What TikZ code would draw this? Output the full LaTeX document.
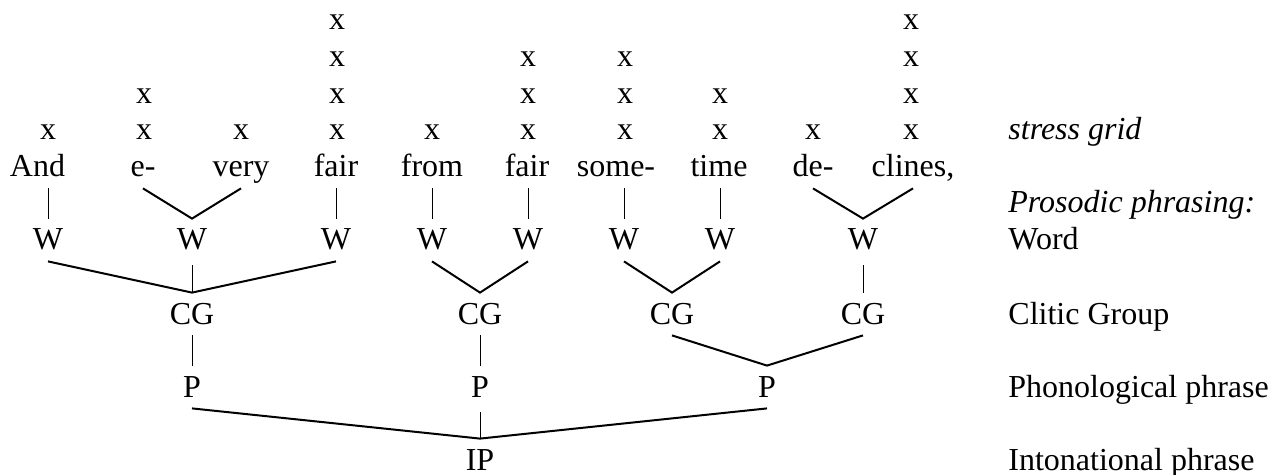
\documentclass[tikz,border=0pt]{standalone}
\usepackage{fontspec}
\setmainfont{Liberation Serif}
\begin{document}
\begin{tikzpicture}[x=0.5pt,y=-0.5pt,
  txt/.style={font=\fontsize{16}{19}\selectfont, inner sep=0pt, anchor=base},
  gridx/.style={txt},
  lbl/.style={txt, anchor=base west},
  wordnode/.style={txt, text height=10pt, text depth=0pt, inner ysep=5.5pt, inner xsep=0pt},
  tnode/.style={txt, text height=10pt, text depth=0pt, inner ysep=5.5pt, inner xsep=0pt},
  thin/.style={line width=0.5pt},
  thick/.style={line width=1pt}]
\useasboundingbox (0,0) rectangle (1272,475);

% stress grid
\foreach \cx/\h [count=\c] in {48/1,144/2,241/1,337/4,432/1,528/3,625/3,720/2,813/1,911/4}{
  \foreach \k in {1,...,\h}{
    \node[gridx] (g\c-\k) at (\cx,{140-36.7*(\k-1)}) {x};
  }
}

% words
\node[wordnode] (and)    at (37.5,177) {And};
\node[wordnode] (e)      at (143,177) {e-};
\node[wordnode] (very)   at (241,177) {very};
\node[wordnode] (fairA)  at (336,177) {fair};
\node[wordnode] (from)   at (432,177) {from};
\node[wordnode] (fairB)  at (527,177) {fair};
\node[wordnode] (some)   at (616,177) {some-};
\node[wordnode] (time)   at (719,177) {time};
\node[wordnode] (de)     at (813,177) {de-};
\node[wordnode] (clines) at (913,177) {clines,};

% W row
\node[tnode] (w1) at (48,250) {W};
\node[tnode] (w2) at (192,250) {W};
\node[tnode] (w3) at (336,250) {W};
\node[tnode] (w4) at (432,250) {W};
\node[tnode] (w5) at (528,250) {W};
\node[tnode] (w6) at (624,250) {W};
\node[tnode] (w7) at (720,250) {W};
\node[tnode] (w8) at (863,250) {W};

% CG row
\node[tnode] (cg1) at (192,324) {CG};
\node[tnode] (cg2) at (480,324) {CG};
\node[tnode] (cg3) at (672,324) {CG};
\node[tnode] (cg4) at (863,324) {CG};

% P row
\node[tnode] (p1) at (192,397) {P};
\node[tnode] (p2) at (480,397) {P};
\node[tnode] (p3) at (767,397) {P};

% IP
\node[tnode] (ip) at (480,470) {IP};

% labels
\node[lbl] (l1) at (1008,140) {\itshape stress grid};
\node[lbl] (l2) at (1008,213) {\itshape Prosodic phrasing:};
\node[lbl] (l3) at (1008,250) {Word};
\node[lbl] (l4) at (1008,324) {Clitic Group};
\node[lbl] (l5) at (1008,397) {Phonological phrase};
\node[lbl] (l6) at (1008,470) {Intonational phrase};

% words to W
\draw[thin] (w1.north |- and.south) -- (w1.north);
\draw[thick] (e.south) -- (w2.north) -- (very.south);
\draw[thin] (w3.north |- fairA.south) -- (w3.north);
\draw[thin] (w4.north |- from.south) -- (w4.north);
\draw[thin] (w5.north |- fairB.south) -- (w5.north);
\draw[thin] (w6.north |- some.south) -- (w6.north);
\draw[thin] (w7.north |- time.south) -- (w7.north);
\draw[thick] (de.south) -- (w8.north) -- (clines.south);

% W to CG
\draw[thick] (w1.south) -- (cg1.north) -- (w3.south);
\draw[thin] ([yshift=-2pt]w2.south) -- (cg1.north);
\draw[thick] (w4.south) -- (cg2.north) -- (w5.south);
\draw[thick] (w6.south) -- (cg3.north) -- (w7.south);
\draw[thin] ([yshift=-2pt]w8.south) -- (cg4.north);

% CG to P
\draw[thin] (cg1.south) -- (p1.north);
\draw[thin] (cg2.south) -- (p2.north);
\draw[thick] (cg3.south) -- (p3.north) -- (cg4.south);

% P to IP
\draw[thick] (p1.south) -- (ip.north) -- (p3.south);
\draw[thin] ([yshift=-2pt]p2.south) -- (ip.north);
\end{tikzpicture}
\end{document}
